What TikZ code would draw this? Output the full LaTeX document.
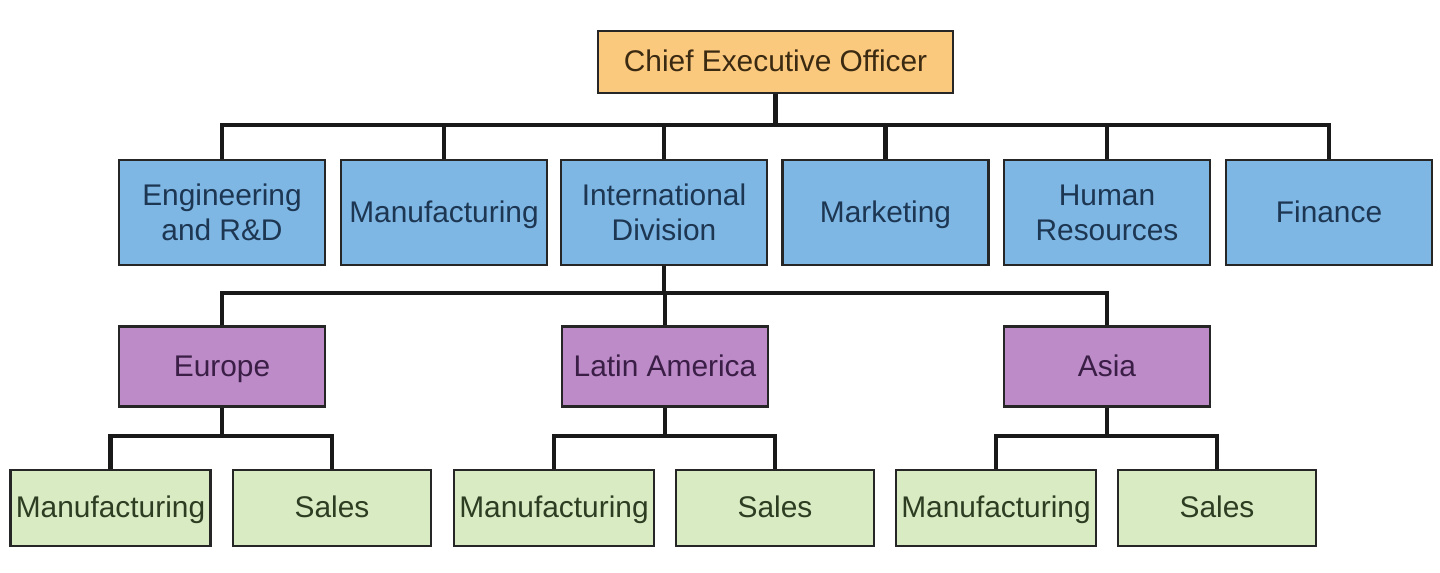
\documentclass[tikz,border=0pt]{standalone}
\usepackage{fontspec}
\setmainfont{Liberation Sans}
\usepackage{tikz}
\usetikzlibrary{positioning,calc}
\definecolor{ceofill}{HTML}{FBC97E}
\definecolor{deptfill}{HTML}{7EB6E4}
\definecolor{regionfill}{HTML}{BC8BC8}
\definecolor{unitfill}{HTML}{D8EBC3}
\definecolor{ceotext}{HTML}{3B2A12}
\definecolor{depttext}{HTML}{1D3652}
\definecolor{regiontext}{HTML}{3A1E46}
\definecolor{unittext}{HTML}{2C3D22}

\begin{document}
\begin{tikzpicture}
\useasboundingbox (0,0) rectangle (28.8,-11.46);
%%%%%%%%%%%%%%%%%%%%%%%%%%%%%%%%%%%%%%%%%%%%%%%%%%%%%%%%%%%%%%%%%%%%%%%%
%boxes
\tikzstyle{box}=[rectangle,draw=black!85,line width=1.6pt,align=center,inner sep=2pt,font=\fontsize{17}{20}\selectfont]
\tikzstyle{oneline}=[text height=12.4pt,text depth=1.4pt]
\tikzstyle{ceo}=[box,oneline,fill=ceofill,text=ceotext,minimum width=7.1cm,minimum height=1.24cm]
\tikzstyle{dept}=[box,fill=deptfill,text=depttext,minimum width=4.12cm,minimum height=2.1cm]
\tikzstyle{region}=[box,oneline,fill=regionfill,text=regiontext,minimum width=4.12cm,minimum height=1.6cm]
\tikzstyle{unit}=[box,oneline,fill=unitfill,text=unittext,minimum width=4cm,minimum height=1.52cm]
\tikzstyle{link}=[line width=2.3pt,black!90]

%top
\node[ceo] (ceo) at (15.51,-1.24) {Chief Executive Officer};

%departments
\node[dept] (eng) at (4.44,-4.25) {Engineering\\and R\&D};
\node[dept,oneline] (manu) at (8.88,-4.25) {Manufacturing};
\node[dept] (intl) at (13.28,-4.25) {International\\Division};
\node[dept,oneline] (mark) at (17.71,-4.25) {Marketing};
\node[dept] (hr) at (22.14,-4.25) {Human\\Resources};
\node[dept,oneline] (fin) at (26.58,-4.25) {Finance};

%regions
\node[region] (eur) at (4.44,-7.33) {Europe};
\node[region] (lat) at (13.30,-7.33) {Latin America};
\node[region] (asia) at (22.14,-7.33) {Asia};

%units
\node[unit] (eurman) at (2.21,-10.16) {Manufacturing};
\node[unit,minimum width=3.96cm] (eursal) at (6.64,-10.16) {Sales};
\node[unit] (latman) at (11.08,-10.16) {Manufacturing};
\node[unit,minimum width=3.96cm] (latsal) at (15.5,-10.16) {Sales};
\node[unit] (asiaman) at (19.92,-10.16) {Manufacturing};
\node[unit,minimum width=3.96cm] (asiasal) at (24.34,-10.16) {Sales};

%links ceo->departments
\draw[link] (eng.north) -- ++(0,0.68) -| (ceo.south);
\draw[link] (manu.north) -- ++(0,0.68) -| (ceo.south);
\draw[link] (intl.north) -- ++(0,0.68) -| (ceo.south);
\draw[link] (mark.north) -- ++(0,0.68) -| (ceo.south);
\draw[link] (hr.north) -- ++(0,0.68) -| (ceo.south);
\draw[link] (fin.north) -- ++(0,0.68) -| (ceo.south);

%links international->regions
\draw[link] (eur.north) -- ++(0,0.64) -| (intl.south);
\draw[link] (lat.north) -- ++(0,0.64) -| (intl.south);
\draw[link] (asia.north) -- ++(0,0.64) -| (intl.south);

%links regions->units
\draw[link] (eurman.north) -- ++(0,0.66) -| (eur.south);
\draw[link] (eursal.north) -- ++(0,0.66) -| (eur.south);
\draw[link] (latman.north) -- ++(0,0.66) -| (lat.south);
\draw[link] (latsal.north) -- ++(0,0.66) -| (lat.south);
\draw[link] (asiaman.north) -- ++(0,0.66) -| (asia.south);
\draw[link] (asiasal.north) -- ++(0,0.66) -| (asia.south);

\end{tikzpicture}
\end{document}
